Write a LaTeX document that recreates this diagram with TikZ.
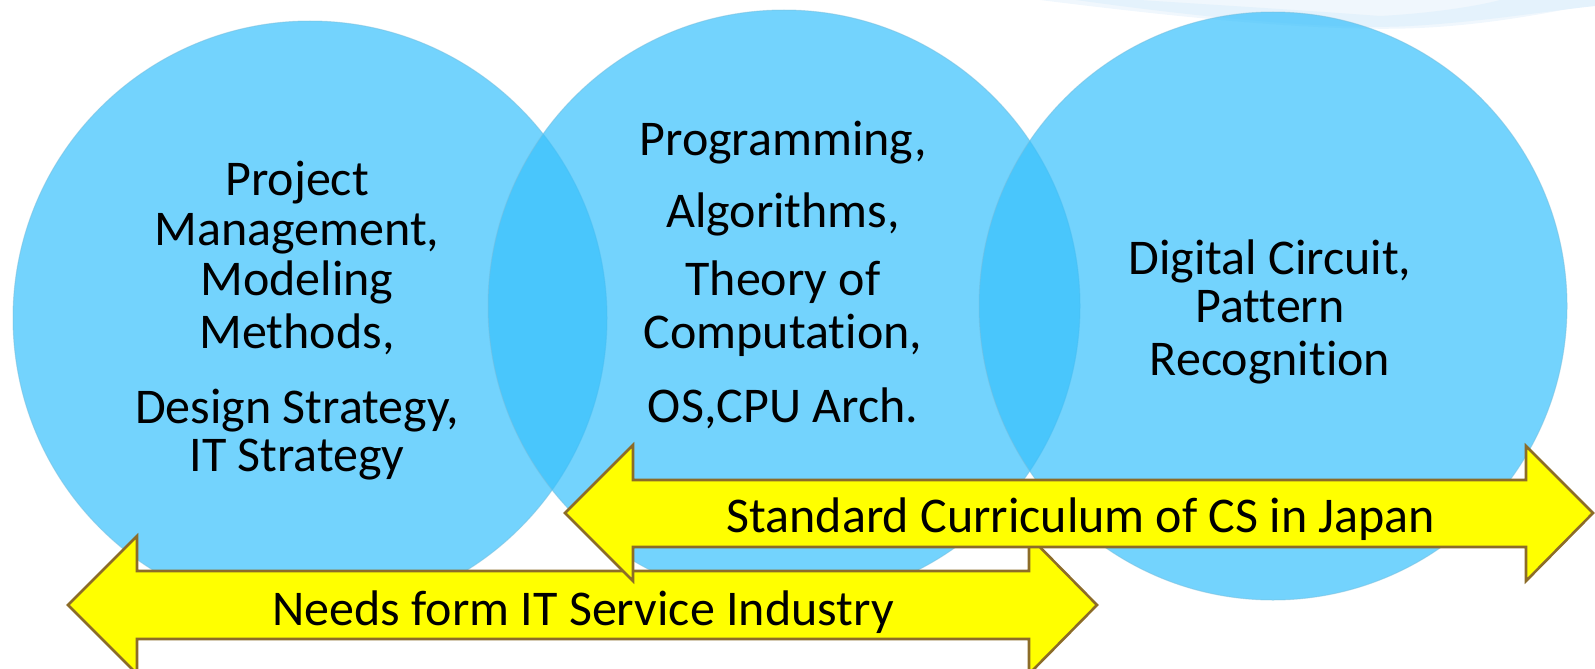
\documentclass[tikz,border=0pt]{standalone}
\usepackage{fontspec}
\setmainfont[Ligatures=NoCommon]{Carlito}
\definecolor{cfill}{RGB}{55,192,252}
\definecolor{crim}{RGB}{120,190,220}
\definecolor{arrfill}{RGB}{255,255,0}
\definecolor{arrline}{RGB}{140,108,40}
\definecolor{swoosh}{RGB}{228,242,252}
\definecolor{swoosh2}{RGB}{240,247,253}
\tikzset{
  venn/.style={fill=cfill, fill opacity=0.7, draw=crim, draw opacity=0.5, line width=1pt},
  bigarrow/.style={fill=arrfill, draw=arrline, line width=2.6pt, line join=miter},
  ctext/.style={font=\fontsize{50}{52}\selectfont, anchor=base, inner sep=0pt},
  atext/.style={font=\fontsize{50}{52}\selectfont, anchor=base, inner sep=0pt}
}
\begin{document}
\begin{tikzpicture}[x=1pt,y=-1pt]
\useasboundingbox (0,0) rectangle (1595,669);
\clip (0,0) rectangle (1595,669);
% swoosh
\fill[swoosh2] (1040,0) .. controls (1200,20) and (1330,32) .. (1420,28) .. controls (1500,24) and (1560,10) .. (1595,4) -- (1595,0) -- cycle;
\fill[swoosh] (1076,0) .. controls (1220,20) and (1340,30) .. (1410,26) .. controls (1480,22) and (1540,12) .. (1595,6) -- (1595,0) -- (1500,0) .. controls (1470,8) and (1420,14) .. (1380,16) .. controls (1300,10) and (1200,4) .. (1140,0) -- cycle;
% circles
\path[venn] (310,318) circle[radius=297pt];
\path[venn] (784,306) circle[radius=296pt];
\path[venn] (1273,306) circle[radius=294pt];
% lower arrow
\coordinate (lt) at (68,605);
\coordinate (rt) at (1097,605);
\draw[bigarrow] (lt) -- (137,536) -- (137,571) -- (1029,571) -- (1029,536) -- (rt) -- (1029,674) -- (1029,639) -- (137,639) -- (137,674) -- cycle;
% upper arrow
\coordinate (ult) at (565,513);
\coordinate (urt) at (1593,513);
\draw[bigarrow] (ult) -- (633,445) -- (633,480) -- (1526,480) -- (1526,446) -- (urt) -- (1526,581) -- (1526,547) -- (633,547) -- (633,581) -- cycle;
% texts circle 1
\node[ctext] (a1) at (297,195) {Project};
\node[ctext] (a2) at (297,245) {Management,};
\node[ctext] (a3) at (297,295) {Modeling};
\node[ctext] (a4) at (297,348) {Methods,};
\node[ctext] (a5) at (297,423) {Design Strategy,};
\node[ctext] (a6) at (297,471) {IT Strategy};
% texts circle 2
\node[ctext] (b1) at (783,155) {Programming,};
\node[ctext] (b2) at (783,227) {Algorithms,};
\node[ctext] (b3) at (783,295) {Theory of};
\node[ctext] (b4) at (783,348) {Computation,};
\node[ctext] (b5) at (783,422) {OS,CPU Arch.};
% texts circle 3
\node[ctext] (c1) at (1270,274) {Digital Circuit,};
\node[ctext] (c2) at (1270,322) {Pattern};
\node[ctext] (c3) at (1270,375) {Recognition};
% arrow texts
\node[atext] (t1) at (1081,532) {Standard Curriculum of CS in Japan};
\node[atext] (t2) at (583,625) {Needs form IT Service Industry};
\end{tikzpicture}
\end{document}
